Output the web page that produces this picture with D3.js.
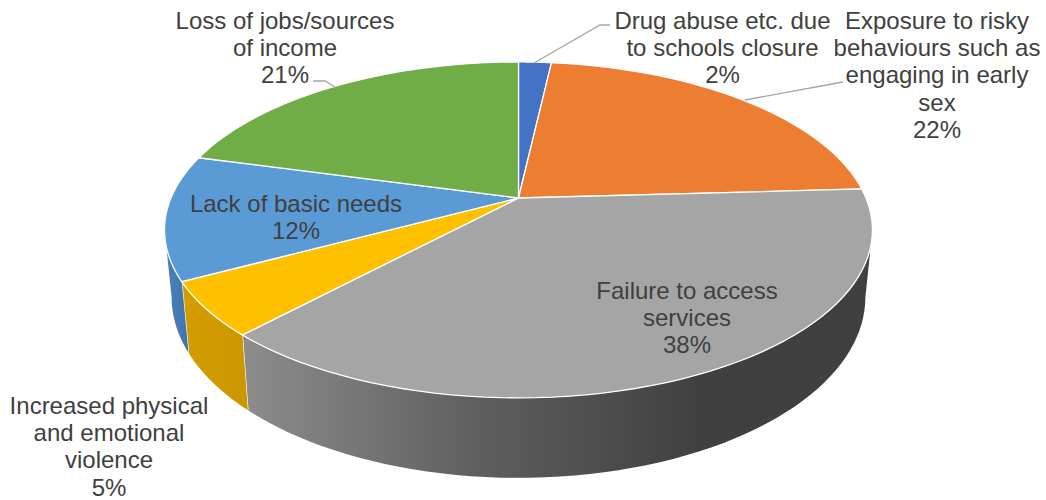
<!DOCTYPE html>
<html>
<head>
<meta charset="utf-8">
<script src="https://cdn.jsdelivr.net/npm/d3@7"></script>
<style>
html,body{margin:0;padding:0;background:#fff;}
svg{display:block;}
text{font-family:"Liberation Sans",Arial,sans-serif;font-size:24px;fill:#404040;text-anchor:middle;}
</style>
</head>
<body>
<svg id="chart" width="1046" height="500"></svg>
<script>
const categories = [
  "Drug abuse etc. due to schools closure",
  "Exposure to risky behaviours such as engaging in early sex",
  "Failure to access services",
  "Increased physical and emotional violence",
  "Lack of basic needs",
  "Loss of jobs/sources of income"
];
const values = [1.8, 22.3, 37.9, 5.2, 12.0, 20.8];
const topColors = ["#4472C4", "#ED7D31", "#A5A5A5", "#FFC000", "#5B9BD5", "#70AD47"];
const labelLines = [
  ["Drug abuse etc. due", "to schools closure", "2%"],
  ["Exposure to risky", "behaviours such as", "engaging in early", "sex", "22%"],
  ["Failure to access", "services", "38%"],
  ["Increased physical", "and emotional", "violence", "5%"],
  ["Lack of basic needs", "12%"],
  ["Loss of jobs/sources", "of income", "21%"]
];
const labelAnchors = [[722.5,29],[937,29],[687,299],[109,414],[296,212],[285,29]];
const lineStep = 27.2;
const leaders = [
  [[534,63],[600,25],[610,25]],
  [[745,100],[843,82]],
  null, null, null,
  [[335,87],[325,81],[313,81]]
];

const svg = d3.select("#chart");
const k = 0.19, depth = 64.8, shrink = 0.98, cx = 518.5;
const xs = d3.scaleLinear().domain([-1,1]).range([cx-347.5, cx+347.5]);
const ys = d3.scaleLinear().domain([-1,1]).range([198-161.9, 198+161.9]);
function topPt(a){
  const X=Math.sin(a), Y=-Math.cos(a), w=1-k*Y;
  return [xs(X/w), ys(Y/w)];
}
function botPt(a){
  const Y=-Math.cos(a), w=1-k*Y, p=topPt(a);
  return [cx+(p[0]-cx)*shrink, p[1]+depth/w];
}
const arcs = d3.pie().sort(null).startAngle(0).endAngle(2*Math.PI)(values);
const line = d3.line();
const samples = (a0,a1) => d3.range(0,61).map(i=>a0+(a1-a0)*i/60);

const defs = svg.append("defs");
function grad(id, stops){
  const g = defs.append("linearGradient").attr("id",id).attr("gradientUnits","userSpaceOnUse")
    .attr("x1",stops[0][0]).attr("x2",stops[stops.length-1][0]).attr("y1",0).attr("y2",0);
  stops.forEach(s=>g.append("stop")
    .attr("offset",(s[0]-stops[0][0])/(stops[stops.length-1][0]-stops[0][0]))
    .attr("stop-color",s[1]));
}
grad("wallGray",[[245,"#8c8c8c"],[480,"#5e5e5e"],[700,"#404040"],[870,"#404040"]]);
grad("wallYellow",[[183,"#d39d00"],[250,"#cc9600"]]);
grad("wallBlue",[[165,"#4a82ba"],[190,"#3f74a8"]]);

const rad = d => d*Math.PI/180;
const walls = [
  {i:2, a0:rad(101), a1:null, fill:"url(#wallGray)"},
  {i:3, a0:null, a1:null, fill:"url(#wallYellow)"},
  {i:4, a0:null, a1:rad(259), fill:"url(#wallBlue)"}
];
walls.forEach(w=>{
  const d=arcs[w.i];
  const a0=w.a0===null?d.startAngle:w.a0, a1=w.a1===null?d.endAngle:w.a1;
  const s=samples(a0,a1);
  svg.append("path")
    .attr("d",line(s.map(topPt).concat(s.slice().reverse().map(botPt)))+"Z")
    .attr("fill",w.fill).attr("stroke","none");
  svg.append("path")
    .attr("d",line([topPt(a1),botPt(a1)]))
    .attr("stroke",w.i===4?"none":"#fff").attr("stroke-width",1.3).attr("fill","none");
});

const center=[xs(0),ys(0)];
arcs.forEach((d,i)=>{
  const pts=[center].concat(samples(d.startAngle,d.endAngle).map(topPt));
  svg.append("path").attr("d",line(pts)+"Z")
    .attr("fill",topColors[i]).attr("stroke","#fff").attr("stroke-width",1.3)
    .attr("stroke-linejoin","round");
});

leaders.forEach(l=>{
  if(l) svg.append("path").attr("d",line(l)).attr("fill","none")
    .attr("stroke","#a6a6a6").attr("stroke-width",1.3);
});
labelLines.forEach((lines,i)=>{
  const t=svg.append("text");
  lines.forEach((s,j)=>t.append("tspan").attr("x",labelAnchors[i][0])
    .attr("y",labelAnchors[i][1]+j*lineStep).text(s));
});
</script>
</body>
</html>
